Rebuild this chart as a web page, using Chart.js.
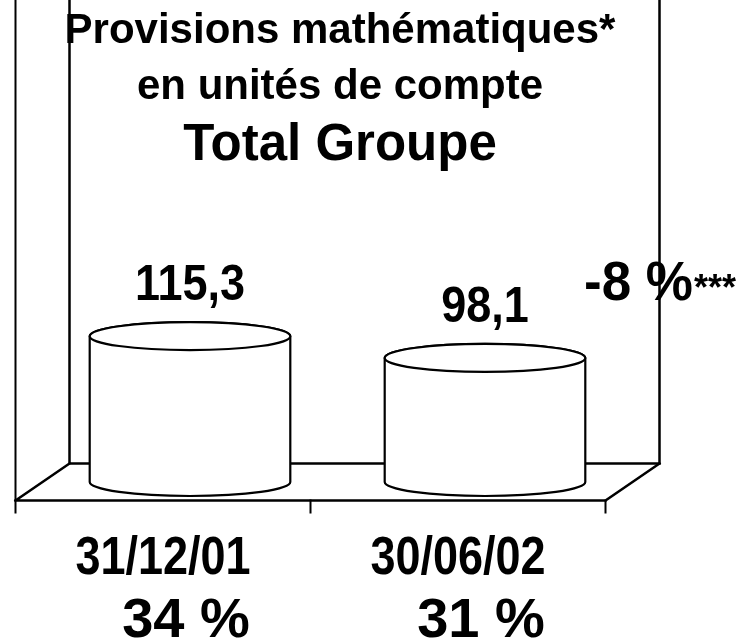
<!DOCTYPE html>
<html>
<head>
<meta charset="utf-8">
<script src="https://cdn.jsdelivr.net/npm/chart.js@4/dist/chart.umd.min.js"></script>
<style>
  body { margin: 0; background: #fff; }
  canvas { display: block; }
</style>
</head>
<body>
<canvas id="myChart" width="747" height="640"></canvas>
<script>
const categories = ['31/12/01', '30/06/02'];
const values = [115.3, 98.1];
const shares = ['34 %', '31 %'];
const titleLines = ['Provisions mathématiques*', 'en unités de compte', 'Total Groupe'];
const changeLabel = '-8 %';
const changeNote = '***';

const FONT = "'Liberation Sans', Arial, sans-serif";
const DX = 27;    // half depth, horizontal
const DY = 18.5;  // half depth, vertical

function fmt(v) {
    return v.toFixed(1).replace('.', ',');
}

// text a bit taller than the font, like the original slide
function tallText(ctx, text, x, y, sy) {
    ctx.save();
    ctx.translate(x, y);
    ctx.scale(1, sy);
    ctx.fillText(text, 0, 0);
    ctx.restore();
}

// back walls, floor and axis lines
const frame = {
    id: 'frame',
    beforeDatasetsDraw(chart) {
        const ctx = chart.ctx;
        const area = chart.chartArea;
        const zero = chart.scales.y.getPixelForValue(0);
        const fl = area.left - DX, fr = area.right - DX, fy = zero + DY;
        const bl = area.left + DX, br = area.right + DX, by = zero - DY;
        ctx.save();
        ctx.strokeStyle = '#000';
        ctx.lineCap = 'square';

        ctx.lineWidth = 2.5;
        ctx.beginPath();
        ctx.moveTo(bl, 0); ctx.lineTo(bl, by); ctx.lineTo(br, by); ctx.lineTo(br, 0);
        ctx.stroke();

        ctx.beginPath();
        ctx.moveTo(fl, fy); ctx.lineTo(bl, by);
        ctx.moveTo(fr, fy); ctx.lineTo(br, by);
        ctx.moveTo(fl, fy); ctx.lineTo(fr, fy);
        ctx.stroke();

        // front vertical axis and ticks
        ctx.lineWidth = 2;
        ctx.beginPath();
        ctx.moveTo(fl, 0); ctx.lineTo(fl, fy + 12);
        const n = categories.length;
        for (let i = 1; i <= n; i++) {
            const x = fl + (fr - fl) * i / n;
            ctx.moveTo(x, fy); ctx.lineTo(x, fy + 12);
        }
        ctx.stroke();
        ctx.restore();
    }
};

// cylinders drawn on top of the (invisible) bars
const cylinders = {
    id: 'cylinders',
    afterDatasetsDraw(chart) {
        const ctx = chart.ctx;
        const meta = chart.getDatasetMeta(0);
        ctx.save();
        ctx.strokeStyle = '#000';
        ctx.lineWidth = 2.2;
        meta.data.forEach((bar, i) => {
            const p = bar.getProps(['x', 'y', 'base', 'width'], true);
            const rx = p.width / 2, ry = 14;
            const left = p.x - rx, right = p.x + rx;
            ctx.fillStyle = '#fff';
            ctx.beginPath();
            ctx.moveTo(left, p.y);
            ctx.lineTo(left, p.base);
            ctx.ellipse(p.x, p.base, rx, ry, 0, Math.PI, 0, true);
            ctx.lineTo(right, p.y);
            ctx.ellipse(p.x, p.y, rx, ry, 0, 0, Math.PI, true);
            ctx.closePath();
            ctx.fill();
            ctx.stroke();

            ctx.beginPath();
            ctx.ellipse(p.x, p.y, rx, ry, 0, 0, Math.PI * 2);
            ctx.fill();
            ctx.stroke();

            ctx.fillStyle = '#000';
            ctx.textAlign = 'center';
            ctx.textBaseline = 'alphabetic';
            ctx.font = 'bold 45px ' + FONT;
            tallText(ctx, fmt(values[i]), p.x, p.y - 36, 1.1);
        });
        ctx.restore();
    }
};

// titles, change and category labels
const texts = {
    id: 'texts',
    afterDraw(chart) {
        const ctx = chart.ctx;
        const area = chart.chartArea;
        const zero = chart.scales.y.getPixelForValue(0);
        const meta = chart.getDatasetMeta(0);
        ctx.save();
        ctx.fillStyle = '#000';
        ctx.textBaseline = 'alphabetic';
        ctx.textAlign = 'center';

        ctx.font = 'bold 42px ' + FONT;
        ctx.fillText(titleLines[0], 340, 43);
        ctx.fillText(titleLines[1], 340, 99);
        ctx.font = 'bold 51px ' + FONT;
        ctx.fillText(titleLines[2], 340, 160);

        // change
        ctx.textAlign = 'left';
        ctx.font = 'bold 53px ' + FONT;
        tallText(ctx, changeLabel, 584, 300, 1.05);
        const w = ctx.measureText(changeLabel).width;
        ctx.font = 'bold 36px ' + FONT;
        ctx.fillText(changeNote, 584 + w + 1, 300);

        // category labels on the front plane
        ctx.textAlign = 'center';
        const fl = area.left - DX, fr = area.right - DX;
        const n = categories.length;
        categories.forEach((c, i) => {
            const x = fl + (fr - fl) * (i + 0.5) / n;
            ctx.font = 'bold 45px ' + FONT;
            tallText(ctx, c, x, zero + 92, 1.2);
            ctx.font = 'bold 56px ' + FONT;
            ctx.fillText(shares[i], meta.data[i].x - 4, zero + 155);
        });
        ctx.restore();
    }
};

const data = {
    labels: categories,
    datasets: [{
        label: '',
        data: values,
        backgroundColor: 'rgba(0,0,0,0)',
        borderWidth: 0,
        categoryPercentage: 1,
        barPercentage: 0.68
    }]
};

const config = {
    type: 'bar',
    data: data,
    options: {
        responsive: false,
        animation: false,
        layout: { padding: { left: 42.5, right: 114.5, top: 0, bottom: 158 } },
        plugins: {
            legend: { display: false },
            tooltip: { enabled: false },
            title: { display: false }
        },
        scales: {
            x: { display: false, offset: true },
            y: { display: false, min: 0, max: 381 }
        }
    },
    plugins: [frame, cylinders, texts]
};

const myChart = new Chart(document.getElementById('myChart'), config);
</script>
</body>
</html>
